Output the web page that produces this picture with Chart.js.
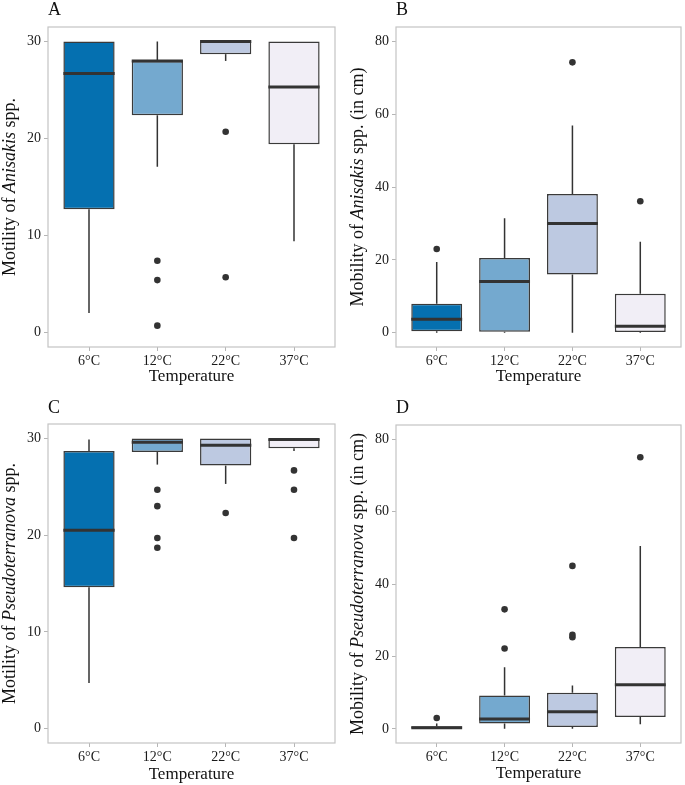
<!DOCTYPE html>
<html>
<head>
<meta charset="utf-8">
<script src="https://cdn.jsdelivr.net/npm/chart.js@4.4.1/dist/chart.umd.min.js"></script>
<style>
body { margin: 0; background: #fff; }
#wrap { position: relative; width: 685px; height: 785px; }
canvas { position: absolute; }
</style>
</head>
<body>
<div id="wrap">
  <canvas id="chartA" width="342" height="392" style="left:0;top:0"></canvas>
  <canvas id="chartB" width="343" height="392" style="left:342px;top:0"></canvas>
  <canvas id="chartC" width="342" height="393" style="left:0;top:392px"></canvas>
  <canvas id="chartD" width="343" height="393" style="left:342px;top:392px"></canvas>
</div>
<script>
var temps = ['6°C', '12°C', '22°C', '37°C'];
var fills = ['#0570b0', '#74a9cf', '#bdc9e1', '#f1eef6'];
var motTicks = [0, 10, 20, 30];
var mobTicks = [0, 20, 40, 60, 80];

// A - motility of Anisakis
var aLow = [2.0, 17.1, 28.0, 9.4];
var aQ1 = [12.7, 22.4, 28.7, 19.4];
var aMed = [26.7, 28.0, 30.0, 25.3];
var aQ3 = [30.0, 28.0, 30.0, 30.0];
var aHigh = [30.0, 30.0, 30.0, 30.0];
var aOut = [[], [7.4, 5.4, 0.7], [20.7, 5.7], []];

// B - mobility of Anisakis (cm)
var bLow = [0, 0, 0, 0];
var bQ1 = [0.4, 0.3, 16.0, 0.2];
var bMed = [3.7, 14.1, 30.0, 1.8];
var bQ3 = [8.0, 20.5, 38.1, 10.7];
var bHigh = [19.4, 31.4, 56.9, 25.0];
var bOut = [[23.0], [], [74.2], [36.1]];

// C - motility of Pseudoterranova
var cLow = [4.7, 27.3, 25.3, 28.7];
var cQ1 = [14.6, 28.6, 27.2, 29.0];
var cMed = [20.5, 29.6, 29.3, 29.9];
var cQ3 = [28.7, 30.0, 30.0, 30.0];
var cHigh = [29.9, 30.0, 30.0, 30.0];
var cOut = [[], [24.7, 23.0, 19.7, 18.7], [22.3], [26.7, 24.7, 19.7]];

// D - mobility of Pseudoterranova (cm)
var dLow = [0, 0, 0, 1.3];
var dQ1 = [0, 1.5, 0.5, 3.3];
var dMed = [0.3, 2.7, 4.7, 12.2];
var dQ3 = [0.7, 9.2, 10.0, 22.6];
var dHigh = [1.5, 17.0, 12.0, 50.5];
var dOut = [[3.0], [22.2, 33.0], [25.3, 26.0, 45.0], [75.0]];

var serif = '"Liberation Serif", "Times New Roman", serif';
var ink = '#333333';

function drawYTitle(ctx, parts, cx, cy) {
    ctx.save();
    ctx.translate(cx, cy);
    ctx.rotate(-Math.PI / 2);
    ctx.textBaseline = 'middle';
    ctx.fillStyle = '#111';
    var w = 0;
    parts.forEach(function (s) {
        ctx.font = (s.i ? 'italic ' : '') + '18px ' + serif;
        w += ctx.measureText(s.t).width;
    });
    var x = -w / 2;
    parts.forEach(function (s) {
        ctx.font = (s.i ? 'italic ' : '') + '18px ' + serif;
        ctx.fillText(s.t, x, 0);
        x += ctx.measureText(s.t).width;
    });
    ctx.restore();
}

function makePanel(id, p) {
    var pos = temps.map(function (t, i) { return i + 1; });
    var boxes = pos.map(function (x, i) { return { x: x, y: [p.q1[i], p.q3[i]] }; });
    var outs = [];
    p.out.forEach(function (list, i) {
        list.forEach(function (v) { outs.push({ x: i + 1, y: v }); });
    });

    var parts = {
        id: 'boxParts',
        beforeDatasetsDraw: function (chart) {
            var ctx = chart.ctx, xs = chart.scales.x, ys = chart.scales.y;
            ctx.save();
            ctx.strokeStyle = ink;
            ctx.lineWidth = 1.5;
            pos.forEach(function (x, i) {
                var px = xs.getPixelForValue(x);
                ctx.beginPath();
                ctx.moveTo(px, ys.getPixelForValue(p.high[i]));
                ctx.lineTo(px, ys.getPixelForValue(p.q3[i]));
                ctx.moveTo(px, ys.getPixelForValue(p.q1[i]));
                ctx.lineTo(px, ys.getPixelForValue(p.low[i]));
                ctx.stroke();
            });
            ctx.restore();
        },
        afterDatasetsDraw: function (chart) {
            var ctx = chart.ctx, xs = chart.scales.x, ys = chart.scales.y;
            var bars = chart.getDatasetMeta(0).data;
            ctx.save();
            ctx.strokeStyle = ink;
            ctx.lineWidth = 3;
            pos.forEach(function (x, i) {
                var px = xs.getPixelForValue(x), hw = bars[i].width / 2;
                var py = ys.getPixelForValue(p.med[i]);
                ctx.beginPath();
                ctx.moveTo(px - hw, py);
                ctx.lineTo(px + hw, py);
                ctx.stroke();
            });
            ctx.restore();
        },
        afterDraw: function (chart) {
            var ctx = chart.ctx, a = chart.chartArea;
            ctx.save();
            ctx.strokeStyle = '#c4c4c4';
            ctx.lineWidth = 1.2;
            ctx.strokeRect(a.left, a.top, a.right - a.left, a.bottom - a.top);
            ctx.fillStyle = '#111';
            ctx.font = '18px ' + serif;
            ctx.textBaseline = 'alphabetic';
            ctx.textAlign = 'left';
            ctx.fillText(p.letter, a.left, p.letterY);
            ctx.font = '17px ' + serif;
            ctx.textAlign = 'center';
            ctx.fillText('Temperature', (a.left + a.right) / 2, p.xTitleY);
            ctx.restore();
            drawYTitle(ctx, p.yTitle, p.yTitleX, (a.top + a.bottom) / 2);
        }
    };

    new Chart(document.getElementById(id), {
        type: 'bar',
        data: {
            datasets: [{
                type: 'bar',
                data: boxes,
                backgroundColor: fills,
                borderColor: '#3a3a3a',
                borderWidth: 1.5,
                borderSkipped: false,
                barPercentage: 0.75,
                categoryPercentage: 1,
                order: 2
            }, {
                type: 'scatter',
                data: outs,
                pointRadius: 3.3,
                pointBackgroundColor: ink,
                pointBorderWidth: 0,
                order: 1
            }]
        },
        options: {
            responsive: false,
            animation: false,
            layout: { padding: p.pad },
            plugins: { legend: { display: false }, tooltip: { enabled: false } },
            scales: {
                x: {
                    type: 'linear',
                    min: 0.4,
                    max: 4.6,
                    offset: false,
                    afterBuildTicks: function (s) { s.ticks = pos.map(function (v) { return { value: v }; }); },
                    afterFit: function (s) { s.height = p.xH; },
                    grid: { display: true, offset: false, drawOnChartArea: false, tickLength: 4, color: '#b5b5b5' },
                    border: { display: false },
                    ticks: {
                        padding: 2,
                        color: '#1a1a1a',
                        font: { family: serif, size: 14 },
                        callback: function (v) { return temps[v - 1]; }
                    }
                },
                y: {
                    min: p.yMin,
                    max: p.yMax,
                    afterBuildTicks: function (s) { s.ticks = p.ticks.map(function (v) { return { value: v }; }); },
                    afterFit: function (s) { s.width = p.yW; },
                    grid: { display: true, drawOnChartArea: false, tickLength: 4, color: '#b5b5b5' },
                    border: { display: false },
                    ticks: { padding: 3, color: '#1a1a1a', font: { family: serif, size: 14 } }
                }
            }
        },
        plugins: [parts]
    });
}

makePanel('chartA', {
    low: aLow, q1: aQ1, med: aMed, q3: aQ3, high: aHigh, out: aOut,
    ticks: motTicks, yMin: -1.5, yMax: 31.5,
    pad: { top: 27, right: 7, left: 0, bottom: 0 }, yW: 48, xH: 45,
    letter: 'A', letterY: 15, xTitleY: 381,
    yTitle: [{ t: 'Motility of ' }, { t: 'Anisakis', i: true }, { t: ' spp.' }], yTitleX: 10
});
makePanel('chartB', {
    low: bLow, q1: bQ1, med: bMed, q3: bQ3, high: bHigh, out: bOut,
    ticks: mobTicks, yMin: -3.9, yMax: 83.9,
    pad: { top: 27, right: 2, left: 0, bottom: 0 }, yW: 54, xH: 45,
    letter: 'B', letterY: 15, xTitleY: 381,
    yTitle: [{ t: 'Mobility of ' }, { t: 'Anisakis', i: true }, { t: ' spp. (in cm)' }], yTitleX: 16
});
makePanel('chartC', {
    low: cLow, q1: cQ1, med: cMed, q3: cQ3, high: cHigh, out: cOut,
    ticks: motTicks, yMin: -1.5, yMax: 31.5,
    pad: { top: 32, right: 7, left: 0, bottom: 0 }, yW: 48, xH: 42,
    letter: 'C', letterY: 21, xTitleY: 387,
    yTitle: [{ t: 'Motility of ' }, { t: 'Pseudoterranova', i: true }, { t: ' spp.' }], yTitleX: 10
});
makePanel('chartD', {
    low: dLow, q1: dQ1, med: dMed, q3: dQ3, high: dHigh, out: dOut,
    ticks: mobTicks, yMin: -3.9, yMax: 83.9,
    pad: { top: 33, right: 2, left: 0, bottom: 0 }, yW: 54, xH: 42,
    letter: 'D', letterY: 21, xTitleY: 386,
    yTitle: [{ t: 'Mobility of ' }, { t: 'Pseudoterranova', i: true }, { t: ' spp. (in cm)' }], yTitleX: 16
});
</script>
</body>
</html>
